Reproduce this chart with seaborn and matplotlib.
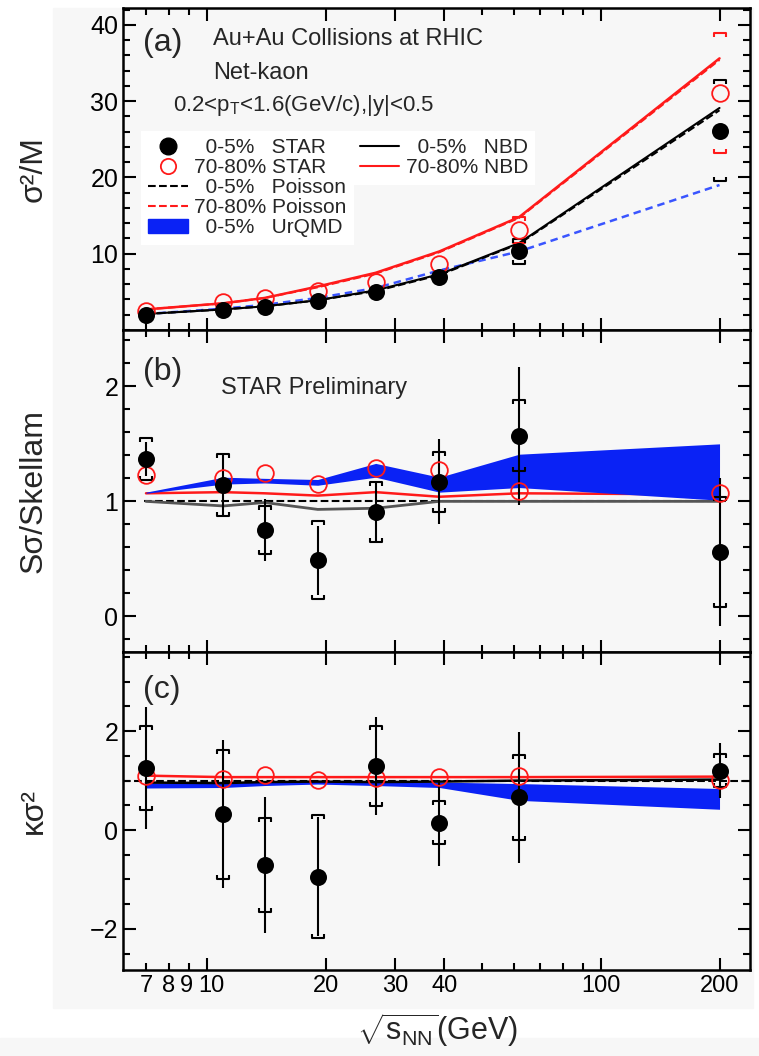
import numpy as np
import pandas as pd
import seaborn as sns
import matplotlib.pyplot as plt
from matplotlib.path import Path
from matplotlib.patches import Rectangle, Patch
from matplotlib.lines import Line2D
from matplotlib.transforms import ScaledTranslation
from matplotlib.ticker import FixedLocator, FixedFormatter, MultipleLocator, NullFormatter

# beam energies (as placed on the plot)
energy = np.array([7.0, 11.0, 14.0, 19.1, 26.8, 38.9, 62.0, 200.0])

# (a) sigma^2/M
a_c0 = np.array([2.0, 2.6, 3.0, 3.8, 5.0, 7.0, 10.3, 26.1])
a_c80 = np.array([2.5, 3.7, 4.2, 5.1, 6.3, 8.7, 13.1, 31.1])
a_sys0 = np.array([0, 0, 0, 0, 0, 0, 1.65, 6.6])
a_sys80 = np.array([0, 0, 0, 0, 0, 0, 1.7, 7.85])
a_nbd0 = [2.1, 2.7, 3.1, 3.9, 5.2, 7.3, 11.4, 29.1]
a_nbd80 = [2.7, 3.5, 4.2, 5.7, 7.5, 10.3, 14.8, 35.6]
a_pois0 = [2.1, 2.7, 3.1, 3.9, 5.1, 7.2, 11.3, 28.8]
a_pois80 = [2.7, 3.5, 4.2, 5.6, 7.4, 10.2, 14.7, 35.4]
a_urqmd = [2.1, 2.8, 3.3, 4.2, 5.5, 7.8, 10.3, 19.0]

# (b) S sigma / Skellam
b_c0 = np.array([1.37, 1.14, 0.75, 0.49, 0.91, 1.17, 1.57, 0.56])
b_stat = np.array([0.15, 0.27, 0.27, 0.3, 0.27, 0.37, 0.6, 0.64])
b_sys = np.array([0.18, 0.27, 0.21, 0.34, 0.26, 0.26, 0.31, 0.48])
b_c80 = np.array([1.23, 1.2, 1.25, 1.15, 1.29, 1.27, 1.09, 1.07])
b_nbd0 = [1.0, 0.96, 0.99, 0.93, 0.94, 1.0, 1.0, 1.0]
b_nbd80 = [1.07, 1.08, 1.07, 1.05, 1.08, 1.04, 1.07, 1.06]
b_urq_lo = [1.07, 1.15, 1.16, 1.14, 1.21, 1.08, 1.12, 1.01]
b_urq_hi = [1.08, 1.21, 1.2, 1.19, 1.33, 1.21, 1.41, 1.5]

# (c) kappa sigma^2
c_c0 = np.array([1.25, 0.32, -0.71, -0.94, 1.29, 0.15, 0.66, 1.2])
c_stat = np.array([1.23, 1.5, 1.37, 1.2, 0.99, 0.87, 1.32, 0.56])
c_sys = np.array([0.85, 1.3, 0.95, 1.25, 0.81, 0.44, 0.86, 0.33])
c_c80 = np.array([1.09, 1.04, 1.11, 1.02, 1.05, 1.08, 1.09, 1.01])
c_nbd0 = [0.96, 0.95, 0.97, 0.98, 0.97, 0.98, 1.0, 1.02]
c_nbd80 = [1.1, 1.07, 1.07, 1.07, 1.07, 1.07, 1.07, 1.08]
c_urq_lo = [0.85, 0.86, 0.9, 0.93, 0.9, 0.86, 0.6, 0.42]
c_urq_hi = [0.95, 0.95, 0.97, 1.0, 0.98, 0.97, 0.94, 0.84]

xmaj = [10, 20, 30, 40, 100, 200]
xmin = [7, 8, 9, 50, 60, 70, 80, 90]

sns.set_theme(style="ticks")
plt.rcParams['font.family'] = ['Liberation Sans', 'DejaVu Sans']
plt.rcParams['mathtext.fontset'] = 'custom'
plt.rcParams['mathtext.rm'] = 'Liberation Sans'
plt.rcParams['mathtext.it'] = 'Liberation Sans:italic'

BLUE = '#0a22f5'
RED = '#ff1a1a'
BG = '#f7f7f7'

top_br = Path([(-1, -0.8), (-1, 0), (1, 0), (1, -0.8)],
              [Path.MOVETO, Path.LINETO, Path.LINETO, Path.LINETO])
bot_br = Path([(-1, 0.8), (-1, 0), (1, 0), (1, 0.8)],
              [Path.MOVETO, Path.LINETO, Path.LINETO, Path.LINETO])

fig = plt.figure(figsize=(7.59, 10.56), dpi=100, facecolor='white')
fig.patches.append(Rectangle((53/759, 1-1008/1056), 700/759, 1000/1056,
                             transform=fig.transFigure, color=BG, zorder=-10))
fig.patches.append(Rectangle((0, 0), 1, 18/1056, transform=fig.transFigure,
                             color=BG, zorder=-10))

L, W = 123/759, 627/759
ax_a = fig.add_axes([L, 1-330/1056, W, 322/1056])
ax_b = fig.add_axes([L, 1-652/1056, W, 322/1056])
ax_c = fig.add_axes([L, 1-970/1056, W, 318/1056])


def style(ax, bottom=False):
    ax.set_facecolor(BG)
    ax.set_xscale('log')
    ax.set_xlim(6.12, 239)
    ax.xaxis.set_major_locator(FixedLocator(xmaj))
    ax.xaxis.set_minor_locator(FixedLocator(xmin))
    if bottom:
        ax.xaxis.set_major_formatter(FixedFormatter([str(v) for v in xmaj]))
        ax.xaxis.set_minor_formatter(FixedFormatter(['7', '8', '9', '', '', '', '', '']))
    else:
        ax.xaxis.set_major_formatter(NullFormatter())
        ax.xaxis.set_minor_formatter(NullFormatter())
    ax.tick_params(which='both', direction='in', top=True, right=True,
                   width=1.5, labelsize=18, colors='black')
    ax.tick_params(axis='x', which='both', labelsize=17)
    ax.tick_params(which='major', length=9)
    ax.tick_params(which='minor', length=5)
    for s in ax.spines.values():
        s.set_linewidth(1.8)
        s.set_color('black')


def points(ax, y, stat, sys, color, filled):
    sel = sys > 0
    ax.plot(energy[sel], (y + sys)[sel], ls='none', marker=top_br, ms=8,
            mfc='none', mec=color, mew=1.5, zorder=4)
    ax.plot(energy[sel], (y - sys)[sel], ls='none', marker=bot_br, ms=8,
            mfc='none', mec=color, mew=1.5, zorder=4)
    if stat is not None:
        ax.errorbar(energy, y, yerr=stat, fmt='none', ecolor=color,
                    elinewidth=1.5, capsize=0, zorder=4)
    if filled:
        sns.scatterplot(x=energy, y=y, ax=ax, color=color, s=150,
                        edgecolor=color, linewidth=0, zorder=6)
    else:
        ax.plot(energy, y, ls='none', marker='o', ms=12, mfc='none',
                mec=color, mew=1.3, zorder=5)


def line(ax, y, color, ls='-', lw=1.5):
    sns.lineplot(x=energy, y=y, ax=ax, color=color, linestyle=ls, lw=lw,
                 estimator=None, sort=False, legend=False, zorder=3)


# ---- panel (a)
style(ax_a)
line(ax_a, a_urqmd, '#3a55ff', ls=(0, (3, 2)), lw=1.8)
line(ax_a, a_pois0, 'black', ls='--')
line(ax_a, a_pois80, RED, ls='--')
line(ax_a, a_nbd0, 'black')
line(ax_a, a_nbd80, RED, lw=1.8)
points(ax_a, a_c80, None, a_sys80, RED, False)
points(ax_a, a_c0, None, a_sys0, 'black', True)
ax_a.set_ylim(0, 42.2)
ax_a.yaxis.set_major_locator(FixedLocator([10, 20, 30, 40]))
ax_a.yaxis.set_minor_locator(MultipleLocator(2))
ax_a.set_ylabel('σ²/M', fontsize=23)

ax_a.text(0.032, 0.89, '(a)', transform=ax_a.transAxes, fontsize=23, va='center')
ax_a.text(0.144, 0.905, 'Au+Au Collisions at RHIC', transform=ax_a.transAxes,
          fontsize=17, va='center')
ax_a.text(0.144, 0.797, 'Net-kaon', transform=ax_a.transAxes, fontsize=17, va='center')
ax_a.text(0.08, 0.697, r'0.2<p$_{\rm T}$<1.6(GeV/c),|y|<0.5', transform=ax_a.transAxes,
          fontsize=16, va='center')

h = [Line2D([], [], ls='none', marker='o', ms=12, color='black'),
     Line2D([], [], ls='none', marker='o', ms=11, mfc='none', mec=RED, mew=1.3),
     Line2D([], [], color='black', ls='--', lw=1.5),
     Line2D([], [], color=RED, ls='--', lw=1.5),
     Patch(color=BLUE)]
labs = ['  0-5%   STAR', '70-80% STAR', '  0-5%   Poisson', '70-80% Poisson', '  0-5%   UrQMD']
leg_kw = dict(loc='upper left', frameon=True, facecolor='white', edgecolor='none',
              fancybox=False, framealpha=1, fontsize=15, handlelength=1.9,
              handletextpad=0.3, labelspacing=0.05, borderpad=0.35, borderaxespad=0)
leg1 = ax_a.legend(h, labs, bbox_to_anchor=(0.029, 0.618), **leg_kw)
ax_a.add_artist(leg1)
h2 = [Line2D([], [], color='black', lw=1.5), Line2D([], [], color=RED, lw=1.5)]
ax_a.legend(h2, ['  0-5%   NBD', '70-80% NBD'], bbox_to_anchor=(0.366, 0.618), **leg_kw)

# ---- panel (b)
style(ax_b)
ax_b.hlines(1, 6.9, 212, colors='black', linestyles='--', lw=1.5, zorder=2)
line(ax_b, b_nbd0, '#555555', lw=2)
line(ax_b, b_nbd80, RED, lw=1.8)
ax_b.fill_between(energy, b_urq_lo, b_urq_hi, color=BLUE, lw=0, zorder=3)
points(ax_b, b_c80, None, np.zeros(8), RED, False)
points(ax_b, b_c0, b_stat, b_sys, 'black', True)
ax_b.set_ylim(-0.31, 2.49)
ax_b.yaxis.set_major_locator(FixedLocator([0, 1, 2]))
ax_b.yaxis.set_minor_locator(MultipleLocator(0.2))
ax_b.set_ylabel('Sσ/Skellam', fontsize=23)
ax_b.text(0.032, 0.87, '(b)', transform=ax_b.transAxes, fontsize=23, va='center')
ax_b.text(0.157, 0.82, 'STAR Preliminary', transform=ax_b.transAxes, fontsize=17,
          va='center')

# ---- panel (c)
style(ax_c, bottom=True)
ax_c.axhline(1, color='black', ls='--', lw=1.5, zorder=2)
ax_c.fill_between(energy, c_urq_lo, c_urq_hi, color=BLUE, lw=0, zorder=3)
line(ax_c, c_nbd0, 'black', lw=1.8)
line(ax_c, c_nbd80, RED, lw=1.8)
points(ax_c, c_c80, None, np.zeros(8), RED, False)
points(ax_c, c_c0, c_stat, c_sys, 'black', True)
ax_c.set_ylim(-2.83, 3.6)
ax_c.yaxis.set_major_locator(FixedLocator([-2, 0, 2]))
ax_c.yaxis.set_minor_locator(MultipleLocator(0.5))
ax_c.set_ylabel('κσ²', fontsize=23)
ax_c.text(0.032, 0.88, '(c)', transform=ax_c.transAxes, fontsize=23, va='center')

for ax in (ax_a, ax_b, ax_c):
    ax.yaxis.set_label_coords(-0.118, 0.5)

fig.text(438/759, 1-1030/1056, r'$\sqrt{\mathrm{s}_{\mathrm{NN}}}$(GeV)', fontsize=22,
         ha='center', va='center')

# nudge the crowded "9" / "10" labels apart a little
fig.canvas.draw()
for lab in ax_c.xaxis.get_majorticklabels():
    if lab.get_text() == '10':
        lab.set_transform(lab.get_transform() + ScaledTranslation(4/100, 0, fig.dpi_scale_trans))
for lab in ax_c.xaxis.get_minorticklabels():
    if lab.get_text() == '9':
        lab.set_transform(lab.get_transform() + ScaledTranslation(-3/100, 0, fig.dpi_scale_trans))

fig.savefig('out.png', dpi=100, facecolor=fig.get_facecolor())
